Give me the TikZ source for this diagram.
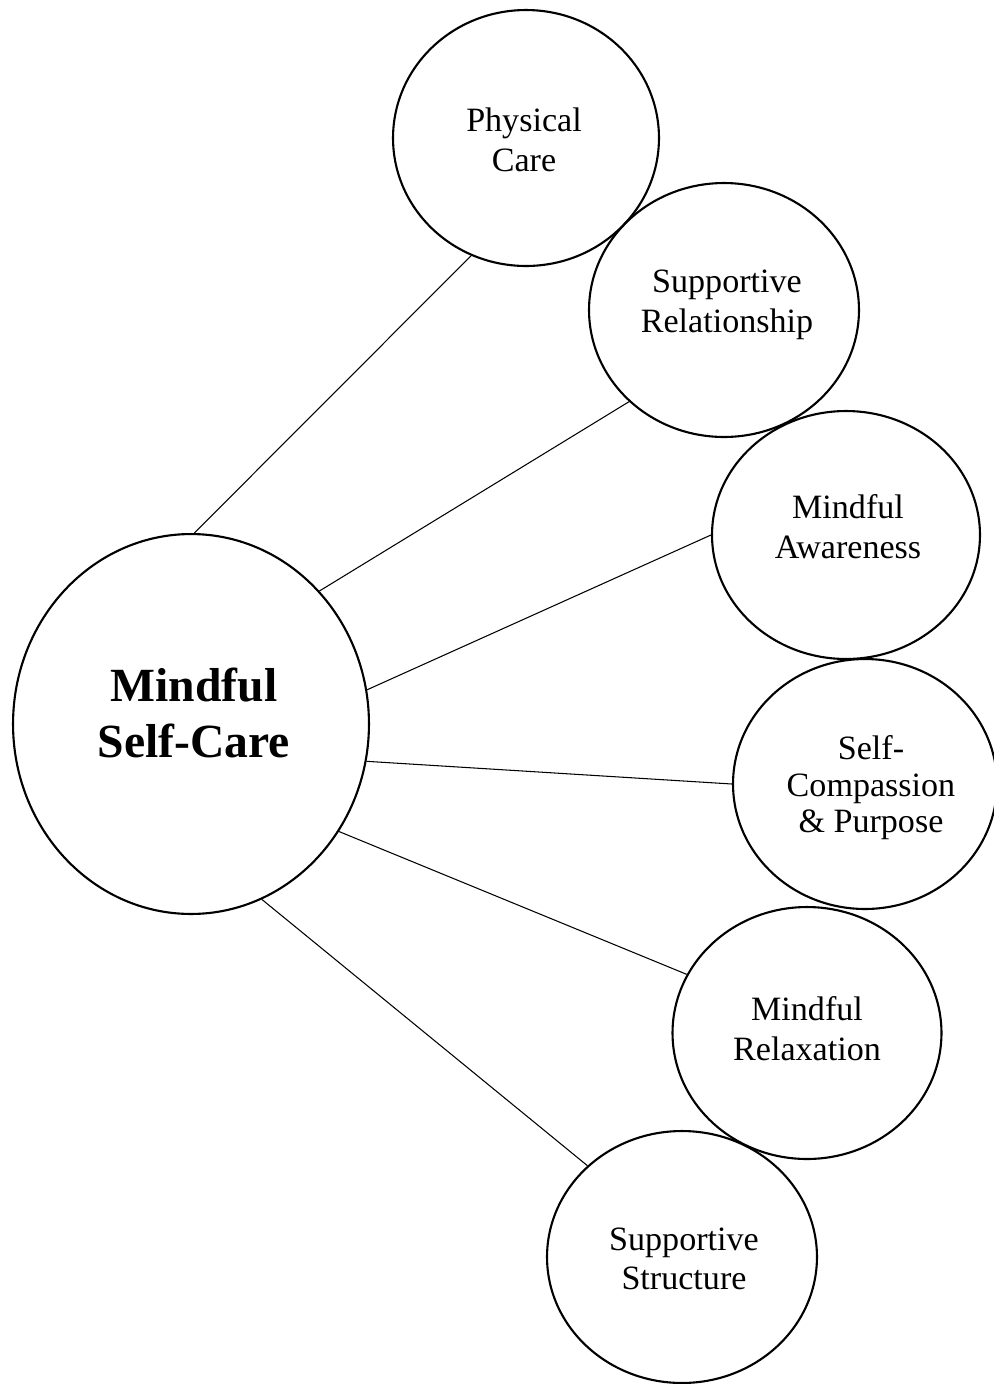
\documentclass[tikz,border=0pt]{standalone}
\usepackage{fontspec}
\setmainfont{Liberation Serif}
\usepackage{tikz}
\usetikzlibrary{shapes.geometric}

\begin{document}
\begin{tikzpicture}[
  x=0.02cm, y=-0.02cm,
  bubble/.style={draw, ellipse, line width=1.2pt, inner sep=0pt},
  txt/.style={align=center, inner sep=0pt, font=\fontsize{19.4}{22.6}\selectfont},
  hubtxt/.style={align=center, inner sep=0pt, font=\fontsize{27.1}{31.9}\selectfont\bfseries},
  link/.style={line width=0.6pt}
]
  \useasboundingbox (0,0) rectangle (994,1384);

  % circles
  \node[bubble, minimum width=7.12cm, minimum height=7.6cm] (main) at (191,724) {};
  \node[bubble, minimum width=5.32cm, minimum height=5.12cm] (phys) at (526,138) {};
  \node[bubble, minimum width=5.4cm, minimum height=5.08cm] (rel) at (724,310) {};
  \node[bubble, minimum width=5.36cm, minimum height=4.96cm] (aware) at (846,535) {};
  \node[bubble, minimum width=5.28cm, minimum height=5cm] (comp) at (865,784) {};
  \node[bubble, minimum width=5.38cm, minimum height=5.04cm] (relax) at (807,1033) {};
  \node[bubble, minimum width=5.4cm, minimum height=5.04cm] (struct) at (682,1257) {};

  % labels
  \node[hubtxt] (mainT) at (194,713) {Mindful\\Self-Care};
  \node[txt] (physT) at (524,140) {Physical\\Care};
  \node[txt] (relT) at (727,305) {Supportive\\Relationship};
  \node[txt] (awareT) at (848,527) {Mindful\\Awareness};
  \node[txt, font=\fontsize{19.4}{20.8}\selectfont] (compT) at (871,788) {Self-\\Compassion\\\& Purpose};
  \node[txt] (relaxT) at (807,1029) {Mindful\\Relaxation};
  \node[txt] (structT) at (684,1259) {Supportive\\Structure};

  \draw[link] (main.89) -- (phys.-115);
  \draw[link] (main.46.5) -- (rel.-136.5);
  \draw[link] (main.11) -- (aware.180);
  \draw[link] (main.-12) -- (comp.180);
  \draw[link] (main.-36) -- (relax.154.5);
  \draw[link] (main.-68) -- (struct.136.5);
\end{tikzpicture}
\end{document}
